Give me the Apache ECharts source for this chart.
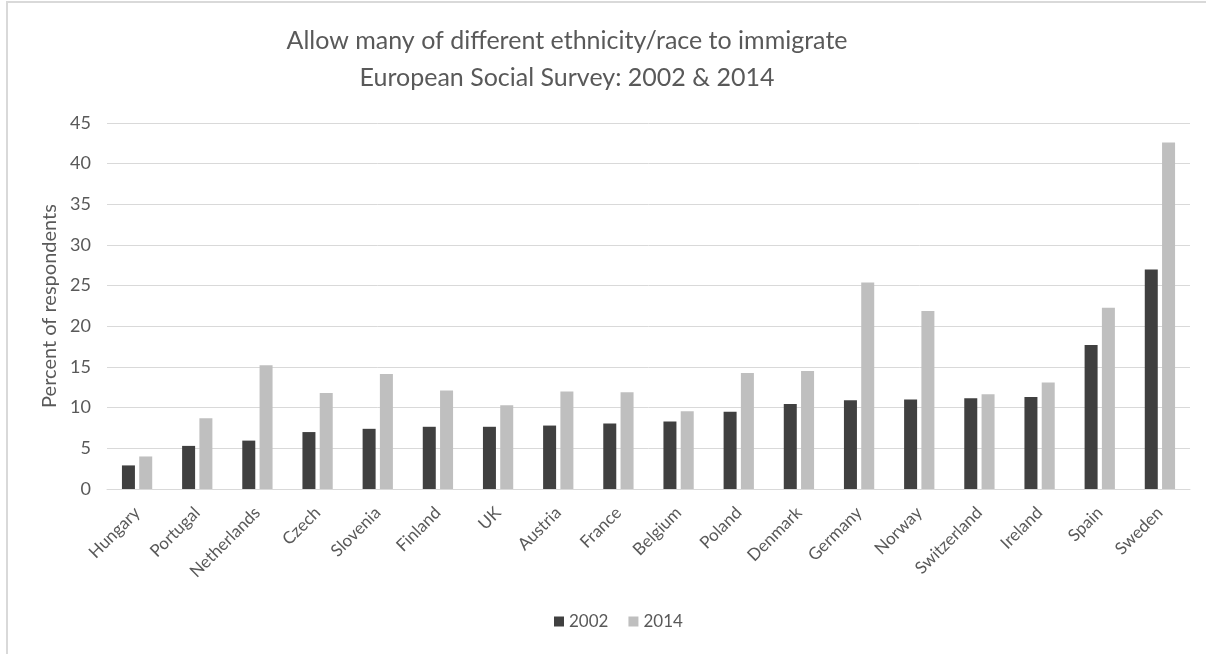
<!DOCTYPE html>
<html>
<head>
<meta charset="utf-8">
<script src="https://cdn.jsdelivr.net/npm/echarts@6/dist/echarts.min.js"></script>
<style>
html,body{margin:0;padding:0;background:#fff;}
#chart{width:1206px;height:654px;}
</style>
</head>
<body>
<div id="chart"></div>
<script>
const countries = ["Hungary","Portugal","Netherlands","Czech","Slovenia","Finland","UK","Austria","France","Belgium","Poland","Denmark","Germany","Norway","Switzerland","Ireland","Spain","Sweden"];
const values2002 = [2.9,5.3,5.95,7.0,7.4,7.65,7.65,7.8,8.05,8.3,9.5,10.45,10.9,11.0,11.15,11.3,17.7,27.0];
const values2014 = [4.0,8.7,15.2,11.8,14.15,12.1,10.3,12.0,11.9,9.55,14.25,14.5,25.4,21.9,11.65,13.1,22.3,42.6];
const yTicks = [0,5,10,15,20,25,30,35,40,45];
const seriesNames = ["2002","2014"];

const font = "Lato";
const grey = "#595959";
const chart = echarts.init(document.getElementById('chart'), null, {renderer:'canvas'});
chart.setOption({
  animation:false,
  backgroundColor:'#fff',
  graphic:[{type:'rect',shape:{x:7,y:2,width:1300,height:800},style:{fill:'none',stroke:'#d9d9d9',lineWidth:2},silent:true}],
  title:{
    text:"Allow many of different ethnicity/race to immigrate\nEuropean Social Survey: 2002 & 2014",
    left:562, top:17, textAlign:'center',
    textStyle:{fontFamily:font,fontSize:25,fontWeight:'normal',color:grey,lineHeight:37}
  },
  legend:{
    data:seriesNames, bottom:19, left:549,
    itemWidth:10,itemHeight:10,itemGap:20,icon:'rect',
    textStyle:{fontFamily:font,fontSize:17,color:grey}
  },
  grid:{left:107,right:16,top:123,bottom:165},
  xAxis:{
    type:'category', data:countries,
    axisLine:{lineStyle:{color:'#d9d9d9',width:1}},
    axisTick:{show:false},
    axisLabel:{rotate:45,fontFamily:font,fontSize:17,color:grey,margin:21,interval:0}
  },
  yAxis:{
    type:'value', min:yTicks[0], max:yTicks[yTicks.length-1], interval:5,
    name:'Percent of respondents', nameLocation:'middle', nameGap:47,
    nameTextStyle:{fontFamily:font,fontSize:20,color:grey},
    axisLine:{show:false}, axisTick:{show:false},
    axisLabel:{fontFamily:font,fontSize:18,color:grey,margin:16},
    splitLine:{lineStyle:{color:'#d9d9d9',width:1}}
  },
  series:[
    {name:seriesNames[0],type:'bar',data:values2002,barWidth:13,barGap:'33%',itemStyle:{color:'#404040'}},
    {name:seriesNames[1],type:'bar',data:values2014,barWidth:13,itemStyle:{color:'#bfbfbf'}}
  ]
});
</script>
</body>
</html>
